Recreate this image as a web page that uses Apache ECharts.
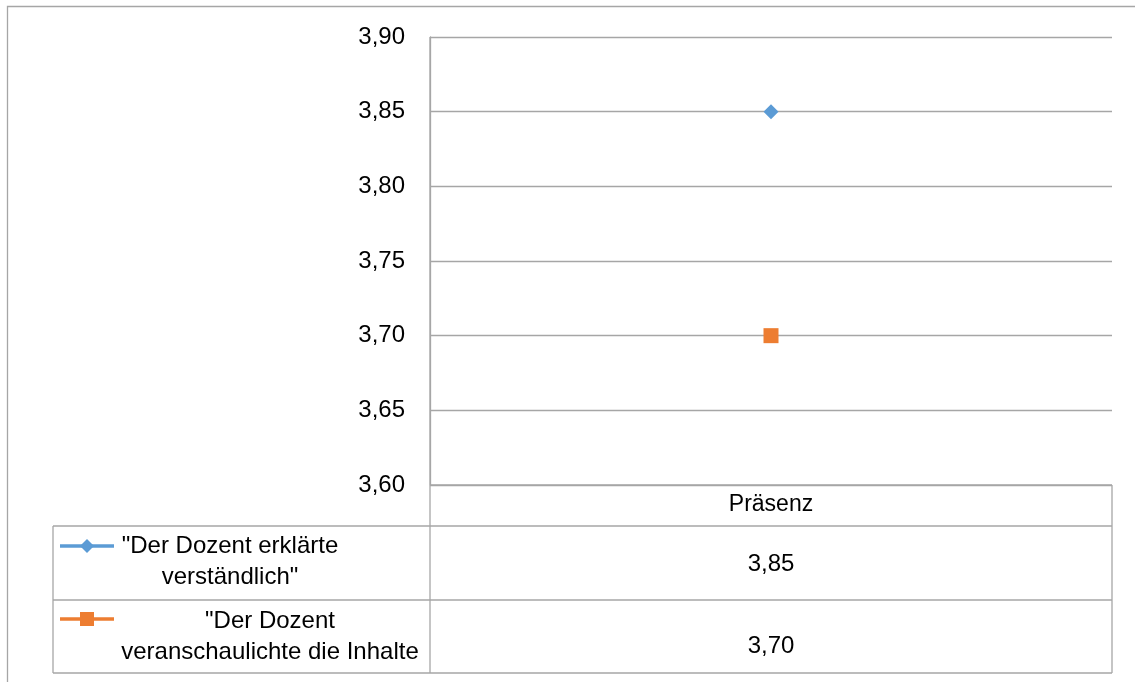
<!DOCTYPE html>
<html>
<head>
<meta charset="utf-8">
<script src="https://cdn.jsdelivr.net/npm/echarts@6/dist/echarts.min.js"></script>
<style>
  html, body { margin: 0; padding: 0; background: #fff; }
  #chart { width: 1135px; height: 682px; }
</style>
</head>
<body>
<div id="chart"></div>
<script>
// Category and series data
const categories = ['Präsenz'];
const seriesNames = ['"Der Dozent erklärte\nverständlich"', '"Der Dozent\nveranschaulichte die Inhalte'];
const erklaerte = [3.85];
const veranschaulichte = [3.70];
const yTicks = { min: 3.60, max: 3.90, step: 0.05 };

const BLUE = '#5B9BD5';
const ORANGE = '#ED7D31';
const GRID = '#A6A6A6';
const FONT = 'Liberation Sans, Arial, sans-serif';

const fmt = v => v.toFixed(2).replace('.', ',');

const chart = echarts.init(document.getElementById('chart'));

// Plot area bounds
const L = 430, R = 1112, T = 37, B = 485;
// Data table rows
const rowHead = 485, row1 = 526, row2 = 600, rowEnd = 673, tabLeft = 53;

function hline(x1, x2, y) {
  return { type: 'line', shape: { x1, y1: y, x2, y2: y }, style: { stroke: GRID, lineWidth: 1.3 }, silent: true };
}
function vline(x, y1, y2) {
  return { type: 'line', shape: { x1: x, y1, x2: x, y2 }, style: { stroke: GRID, lineWidth: 1.3 }, silent: true };
}
function label(text, x, y, size) {
  return { type: 'text', x, y, style: { text, font: size + 'px ' + FONT, fill: '#000', align: 'center', verticalAlign: 'middle', lineHeight: 31 }, silent: true };
}

const graphics = [
  // outer chart frame
  { type: 'rect', shape: { x: 7.5, y: 6.5, width: 1200, height: 720 }, style: { fill: 'none', stroke: GRID, lineWidth: 1.3 }, silent: true },
  // data table grid
  hline(L, R, rowHead),
  hline(tabLeft, R, row1),
  hline(tabLeft, R, row2),
  hline(tabLeft, R, rowEnd),
  vline(L, T, rowEnd),
  vline(R, rowHead, rowEnd),
  vline(tabLeft, row1, rowEnd),
  // header
  label(categories[0], (L + R) / 2, 505, 23),
  // values
  label(fmt(erklaerte[0]), (L + R) / 2, 564, 24),
  label(fmt(veranschaulichte[0]), (L + R) / 2, 646, 24),
  // legend keys
  { type: 'line', shape: { x1: 60, y1: 546, x2: 114, y2: 546 }, style: { stroke: BLUE, lineWidth: 3.5 }, silent: true },
  { type: 'polygon', shape: { points: [[87, 539], [94, 546], [87, 553], [80, 546]] }, style: { fill: BLUE }, silent: true },
  { type: 'line', shape: { x1: 60, y1: 619, x2: 114, y2: 619 }, style: { stroke: ORANGE, lineWidth: 3.5 }, silent: true },
  { type: 'rect', shape: { x: 80, y: 612, width: 14, height: 14 }, style: { fill: ORANGE }, silent: true },
  // legend texts
  label(seriesNames[0], 230, 562, 24),
  label(seriesNames[1], 270, 637, 24)
];

chart.setOption({
  animation: false,
  backgroundColor: '#fff',
  grid: { left: L, right: 1135 - R, top: T, bottom: 682 - B, containLabel: false },
  xAxis: {
    type: 'category',
    data: categories,
    boundaryGap: true,
    axisLine: { show: false },
    axisTick: { show: false },
    axisLabel: { show: false },
    splitLine: { show: false }
  },
  yAxis: {
    type: 'value',
    min: yTicks.min,
    max: yTicks.max,
    interval: yTicks.step,
    axisLine: { show: true, lineStyle: { color: GRID, width: 1.3 } },
    axisTick: { show: false },
    axisLabel: {
      margin: 25,
      color: '#000',
      fontFamily: FONT,
      fontSize: 24,
      formatter: v => fmt(v)
    },
    splitLine: { show: true, lineStyle: { color: GRID, width: 1.3 } }
  },
  series: [
    {
      name: seriesNames[0],
      type: 'line',
      data: erklaerte,
      symbol: 'diamond',
      symbolSize: 15,
      itemStyle: { color: BLUE },
      lineStyle: { color: BLUE }
    },
    {
      name: seriesNames[1],
      type: 'line',
      data: veranschaulichte,
      symbol: 'rect',
      symbolSize: 15,
      itemStyle: { color: ORANGE },
      lineStyle: { color: ORANGE }
    }
  ],
  graphic: graphics
});
</script>
</body>
</html>
